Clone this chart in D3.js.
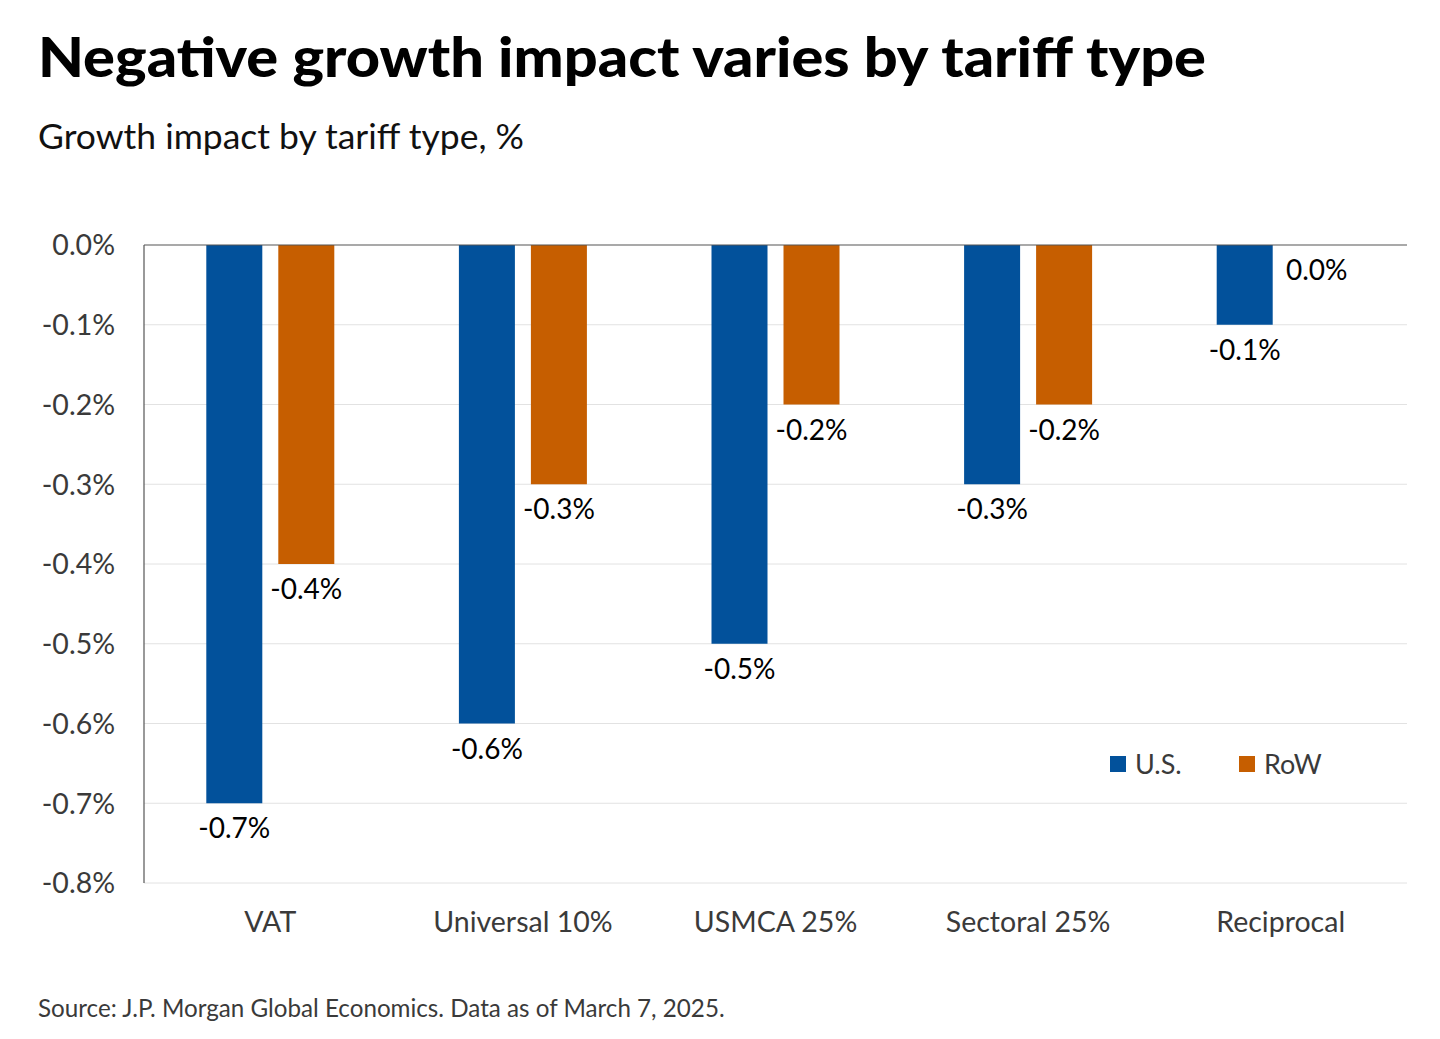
<!DOCTYPE html>
<html>
<head>
<meta charset="UTF-8">
<title>Negative growth impact varies by tariff type</title>
<script src="https://d3js.org/d3.v7.min.js"></script>
<style>
  body { margin: 0; background: #fff; }
  svg text { font-family: "Lato", "Noto Sans", sans-serif; }
</style>
</head>
<body>
<svg id="chart" width="1440" height="1039"></svg>
<script>
// data
const categories = ["VAT", "Universal 10%", "USMCA 25%", "Sectoral 25%", "Reciprocal"];
const seriesNames = ["U.S.", "RoW"];
const usValues = [-0.7, -0.6, -0.5, -0.3, -0.1];
const rowValues = [-0.4, -0.3, -0.2, -0.2, 0.0];
const yTicks = [0, -0.1, -0.2, -0.3, -0.4, -0.5, -0.6, -0.7, -0.8];
const colors = ["#02519b", "#c65e00"];

const svg = d3.select("#chart");
const margin = { top: 245, right: 33, bottom: 156, left: 144 };
const W = 1440, H = 1039;

// title + subtitle
svg.append("text")
  .attr("x", 38).attr("y", 77)
  .attr("font-size", 56).attr("font-weight", 900)
  .style("font-family", "Lato, Inter, sans-serif")
  .attr("fill", "#000")
  .attr("textLength", 1168).attr("lengthAdjust", "spacingAndGlyphs")
  .text("Negative growth impact varies by tariff type");

svg.append("text")
  .attr("x", 38).attr("y", 149)
  .attr("font-size", 34).attr("fill", "#111")
  .attr("textLength", 486).attr("lengthAdjust", "spacingAndGlyphs")
  .text("Growth impact by tariff type, %");

// scales
const x = d3.scaleBand()
  .domain(categories)
  .range([margin.left, W - margin.right]);
const y = d3.scaleLinear()
  .domain([0, -0.8])
  .range([margin.top, H - margin.bottom]);
const barW = 56, gap = 16;
const offset = i => (i === 0 ? -(barW + gap) / 2 : (barW + gap) / 2);

// gridlines
svg.append("g")
  .selectAll("line")
  .data(yTicks.filter(d => d !== 0))
  .join("line")
  .attr("x1", margin.left).attr("x2", W - margin.right)
  .attr("y1", d => y(d)).attr("y2", d => y(d))
  .attr("stroke", "#e2e2e2").attr("stroke-width", 1);

// y axis labels
const fmt = d => (d === 0 ? "0.0%" : d3.format(".1f")(d).replace("−", "-") + "%");
svg.append("g")
  .selectAll("text")
  .data(yTicks)
  .join("text")
  .attr("x", 115).attr("y", d => y(d))
  .attr("dy", "0.36em")
  .attr("text-anchor", "end")
  .attr("font-size", 28.5).attr("fill", "#3a3a3a")
  .text(fmt);

// bars
const series = [usValues, rowValues];
series.forEach((vals, si) => {
  svg.append("g")
    .selectAll("rect")
    .data(vals.map((v, i) => ({ cat: categories[i], v })))
    .join("rect")
    .attr("x", d => x(d.cat) + x.bandwidth() / 2 + offset(si) - barW / 2)
    .attr("y", y(0))
    .attr("width", barW)
    .attr("height", d => y(d.v) - y(0))
    .attr("fill", colors[si]);

  svg.append("g")
    .selectAll("text")
    .data(vals.map((v, i) => ({ cat: categories[i], v })))
    .join("text")
    .attr("x", d => x(d.cat) + x.bandwidth() / 2 + offset(si))
    .attr("y", d => y(d.v) + 25)
    .attr("dy", "0.36em")
    .attr("text-anchor", "middle")
    .attr("font-size", 28).attr("fill", "#000")
    .text(d => fmt(d.v));
});

// axes lines
svg.append("line")
  .attr("x1", margin.left).attr("x2", W - margin.right)
  .attr("y1", y(0)).attr("y2", y(0))
  .attr("stroke", "#555").attr("stroke-width", 1.2);
svg.append("line")
  .attr("x1", margin.left).attr("x2", margin.left)
  .attr("y1", y(0)).attr("y2", y(-0.8))
  .attr("stroke", "#555").attr("stroke-width", 1.2);

// category labels
svg.append("g")
  .selectAll("text")
  .data(categories)
  .join("text")
  .attr("x", d => x(d) + x.bandwidth() / 2)
  .attr("y", 922)
  .attr("dy", "0.36em")
  .attr("text-anchor", "middle")
  .attr("font-size", 28.5).attr("fill", "#3a3a3a")
  .text(d => d);

// legend
const legendX = [1110, 1239];
seriesNames.forEach((name, i) => {
  svg.append("rect")
    .attr("x", legendX[i]).attr("y", 756)
    .attr("width", 16).attr("height", 16)
    .attr("fill", colors[i]);
  svg.append("text")
    .attr("x", legendX[i] + 25).attr("y", 764)
    .attr("dy", "0.36em")
    .attr("font-size", 27).attr("fill", "#3a3a3a")
    .text(name);
});

// source
svg.append("text")
  .attr("x", 38).attr("y", 1008)
  .attr("dy", "0.36em")
  .attr("font-size", 24.2).attr("fill", "#3a3a3a")
  .text("Source: J.P. Morgan Global Economics. Data as of March 7, 2025.");
</script>
</body>
</html>
